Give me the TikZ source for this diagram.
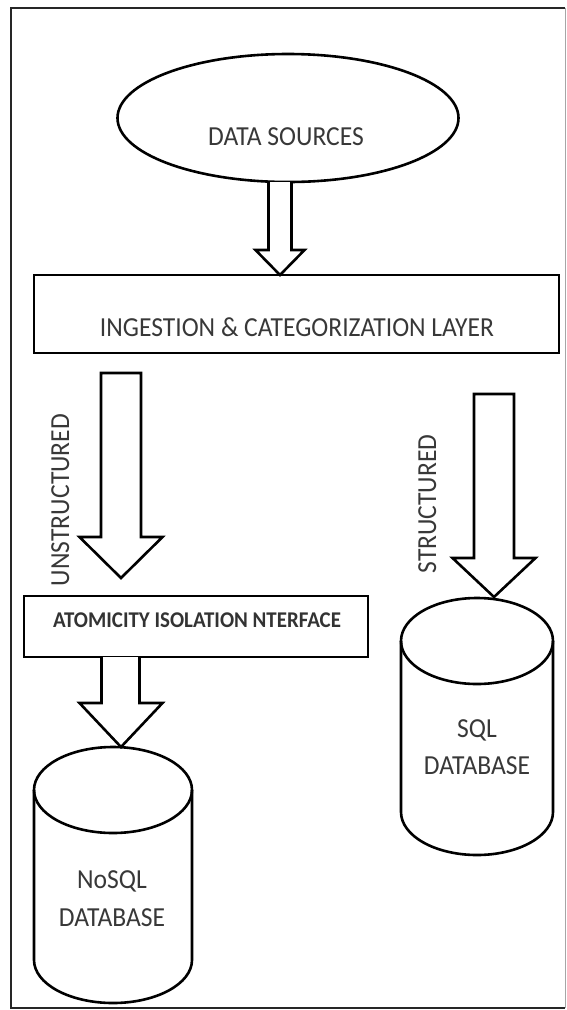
\documentclass[tikz,border=0pt]{standalone}
\usepackage{fontspec}
\setmainfont{Carlito}
\newfontfamily\lblfont[FakeStretch=0.93]{Carlito}
\usetikzlibrary{shapes.geometric}
\begin{document}
\begin{tikzpicture}[x=1pt,y=-1pt,
  shapeline/.style={draw=black,line width=2.6pt,line join=miter},
  lbl/.style={inner sep=0pt,anchor=base,text=black!78,font=\lblfont\fontsize{27.5}{32}\selectfont},
  smalllbl/.style={inner sep=0pt,anchor=base,text=black!80,font=\lblfont\bfseries\fontsize{22.5}{27}\selectfont},
  blockarrow/.style={draw=black,line width=2.6pt,fill=white,line join=miter}]
\useasboundingbox (0,0) rectangle (567,1010);
% outer frame
\draw[line width=2.4pt,draw=black!85] (565,1008) -- (11,1008) -- (11,8) -- (565,8);
\draw[line width=1pt,draw=black!35] (565,8) -- (565,1008);

% data sources ellipse
\node[ellipse,shapeline,minimum width=341pt,minimum height=128pt,inner sep=0pt] (ds) at (288,118) {};
\node[lbl] (dstext) at (286,145) {DATA SOURCES};

% ingestion layer box
\node[shapeline,rectangle,minimum width=525pt,minimum height=78pt,inner sep=0pt] (ing) at (296.5,314) {};
\node[lbl] (ingtext) at (297,336) {INGESTION \& CATEGORIZATION LAYER};

% atomicity box
\node[shapeline,rectangle,minimum width=344pt,minimum height=61pt,inner sep=0pt] (aif) at (196,626.5) {};
\node[smalllbl] (aiftext) at (197,627) {ATOMICITY ISOLATION NTERFACE};

% block arrows
% data sources -> ingestion
\draw[blockarrow] (268.5,182) -- (268.5,250) -- (255.5,250) -- (280,275) -- (304.5,250) -- (291.5,250) -- (291.5,182);
% unstructured
\draw[blockarrow] (101,373) -- (141,373) -- (141,537) -- (162.5,537) -- (121,578) -- (79.5,537) -- (101,537) -- cycle;
% structured
\draw[blockarrow] (474,394) -- (514,394) -- (514,558) -- (535.5,558) -- (494,597) -- (452.5,558) -- (474,558) -- cycle;
% atomicity -> nosql
\draw[blockarrow] (101.5,657) -- (101.5,703) -- (79.5,703) -- (121,747) -- (162.5,703) -- (139.5,703) -- (139.5,657);

% vertical labels
\node[lbl,rotate=90] (unstr) at (69,500) {UNSTRUCTURED};
\node[lbl,rotate=90] (str) at (436,504) {STRUCTURED};

% SQL database cylinder
\coordinate (sqltop) at (477,641);
\draw[shapeline,fill=white] (401,641) -- (401,812) arc[start angle=180,end angle=360,x radius=76pt,y radius=43pt] -- (553,641);
\draw[shapeline] (sqltop) ellipse[x radius=76pt,y radius=43pt];
\node[lbl] (sqltext1) at (477,737) {SQL};
\node[lbl] (sqltext2) at (477,774) {DATABASE};

% NoSQL database cylinder
\coordinate (nosqltop) at (113,790);
\draw[shapeline,fill=white] (34,790) -- (34,960) arc[start angle=180,end angle=360,x radius=79pt,y radius=43pt] -- (192,790);
\draw[shapeline] (nosqltop) ellipse[x radius=79pt,y radius=43pt];
\node[lbl] (nosqltext1) at (112,888) {NoSQL};
\node[lbl] (nosqltext2) at (112,926) {DATABASE};
\end{tikzpicture}
\end{document}
